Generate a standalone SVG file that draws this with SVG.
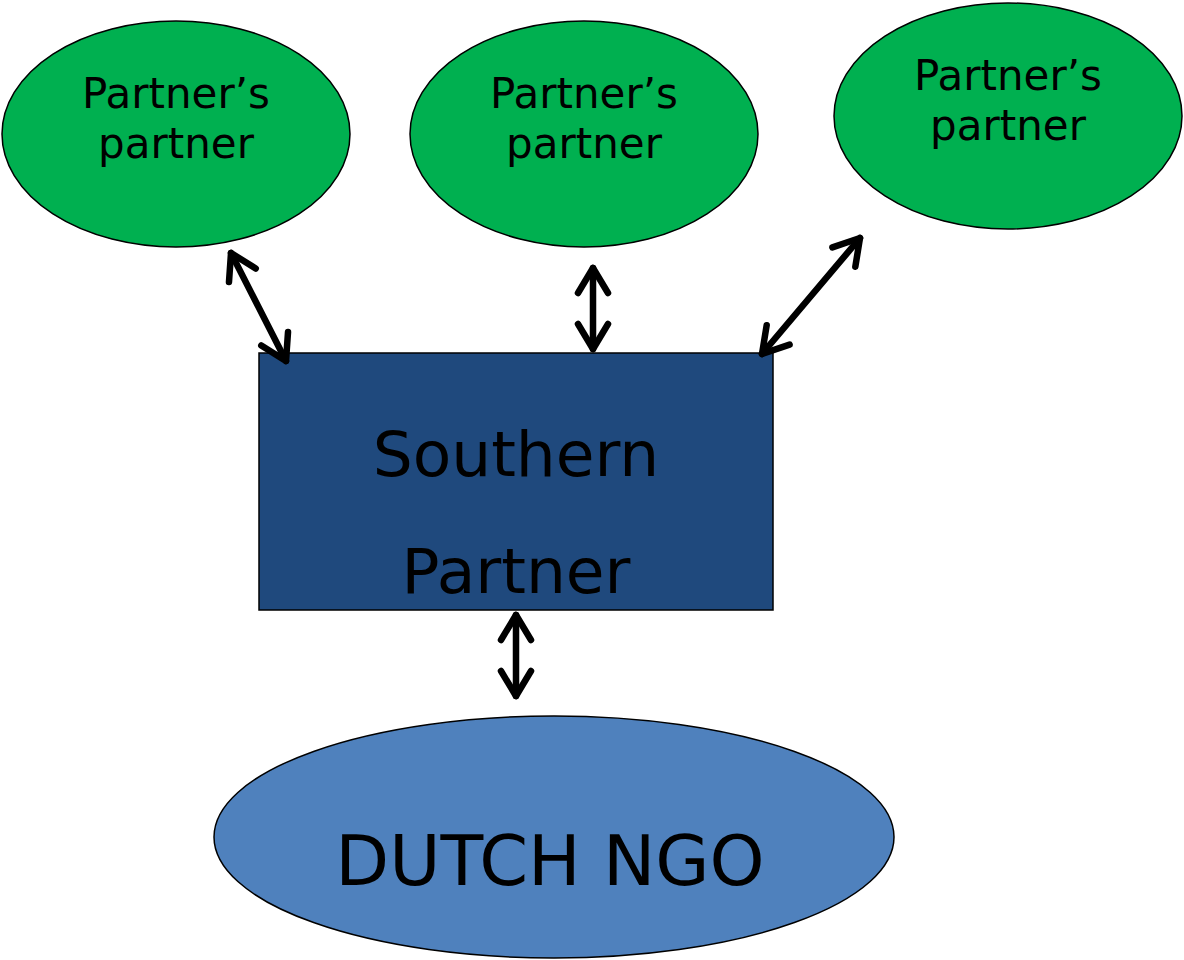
<svg xmlns="http://www.w3.org/2000/svg" width="1184" height="960" viewBox="0 0 1184 960">
<defs>
<style>
.pp{fill:#00B050;stroke:#000;stroke-width:1.5}
.t{font-family:"DejaVu Sans",Verdana,sans-serif;fill:#000;text-anchor:middle}
.c{stroke:#000;stroke-width:6.5;fill:none;stroke-linecap:round;marker-start:url(#ah);marker-end:url(#ah)}
</style>
<marker id="ah" markerUnits="userSpaceOnUse" markerWidth="80" markerHeight="80" viewBox="-40 -40 80 80" refX="0" refY="0" orient="auto-start-reverse" overflow="visible">
<path d="M -25 -15 L 0 0 L -25 15" fill="none" stroke="#000" stroke-width="6.5" stroke-linecap="round" stroke-linejoin="round"/>
</marker>
</defs>
<rect width="1184" height="960" fill="#fff"/>
<g id="pp1">
<ellipse class="pp" cx="176" cy="134" rx="174" ry="113"/>
<text class="t" font-size="42" x="176" y="108">Partner’s</text>
<text class="t" font-size="42" x="176" y="158">partner</text>
</g>
<g id="pp2">
<ellipse class="pp" cx="584" cy="134" rx="174" ry="113"/>
<text class="t" font-size="42" x="584" y="108">Partner’s</text>
<text class="t" font-size="42" x="584" y="158">partner</text>
</g>
<g id="pp3">
<ellipse class="pp" cx="1008" cy="116" rx="174" ry="113"/>
<text class="t" font-size="42" x="1008" y="90">Partner’s</text>
<text class="t" font-size="42" x="1008" y="140">partner</text>
</g>
<g id="southern">
<rect x="259" y="353" width="514" height="257" fill="#1F497D" stroke="#000" stroke-width="1.5"/>
<text class="t" font-size="63" x="516" y="476">Southern</text>
<text class="t" font-size="63" x="516" y="593">Partner</text>
</g>
<g id="dutch">
<ellipse cx="554" cy="837" rx="340" ry="121" fill="#4F81BD" stroke="#000" stroke-width="1.5"/>
<text class="t" font-size="70" x="550" y="885">DUTCH NGO</text>
</g>
<g id="connectors">
<line class="c" x1="231" y1="253" x2="286" y2="361"/>
<line class="c" x1="593" y1="268" x2="593" y2="349"/>
<line class="c" x1="860" y1="238" x2="762" y2="354"/>
<line class="c" x1="516" y1="615" x2="516" y2="696"/>
</g>
</svg>
